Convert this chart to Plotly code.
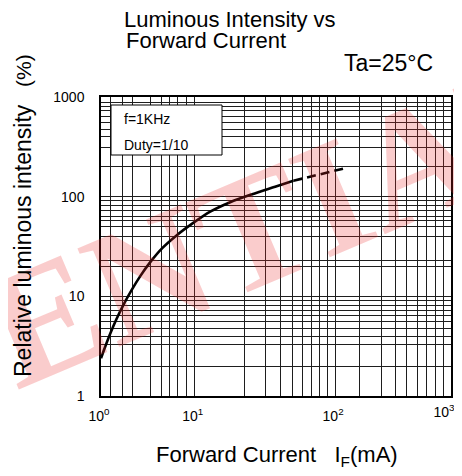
import plotly.graph_objects as go

# ---- data ----
x_label_vals = [1.0, 6.36, 101.5]
x_label_text = ["10<sup>0</sup>", "10<sup>1</sup>", "10<sup>2</sup>"]
x_end_val = [1000.0]
x_end_text = ["10<sup>3</sup>"]
y_label_vals = [1, 10, 100, 1000]
y_label_text = ["1", "10", "100", "1000"]

x_grid = [1.218, 1.522, 1.872, 2.644, 3.284, 3.845, 4.502, 5.43,
          16.87, 25.88, 34.31, 43.47, 53.48, 63.24, 74.47, 87.22,
          164.6, 251.4, 334.6, 411.6, 511.3, 619.3, 729.4, 853.9]
y_grid = [891, 807, 724, 640, 561, 471, 397, 315, 199,
          92.2, 82.1, 72.0, 63.7, 57.1, 50.2, 39.5, 23.1, 19.8,
          9.17, 8.17, 7.28, 6.49, 5.65, 4.77, 3.99, 3.32, 1.97]

curve_x = [1.0, 1.088, 1.201, 1.352, 1.553, 1.818, 2.170, 2.644, 3.349,
           4.415, 6.052, 8.630, 12.81, 19.76, 31.09, 44.61]
curve_y = [2.387, 3.134, 4.231, 5.846, 8.169, 11.41, 15.95, 22.03, 30.45,
           40.62, 53.58, 70.68, 88.0, 105.8, 125.8, 144.5]
ext_x = [44.61, 123.6]
ext_y = [144.5, 192.9]

# ---- layout geometry (page is offset 8px by the body margin) ----
W, H = 446, 460
ML, MR, MT, MB = 93, 3, 89, 72
PL, PR, PT, PB = 101, 451, 97, 396   # plot area in page pixels


def px(x):
    return (x - PL) / (PR - PL)


def py(y):
    return (PB - y) / (PB - PT)


FONT = "Liberation Sans, Arial, sans-serif"

fig = go.Figure()
fig.add_trace(go.Scatter(x=curve_x, y=curve_y, mode="lines",
                         line=dict(color="black", width=2.6, shape="spline", smoothing=0.8),
                         showlegend=False, hoverinfo="skip"))
fig.add_trace(go.Scatter(x=ext_x, y=ext_y, mode="lines", xaxis="x2", yaxis="y2",
                         line=dict(color="black", width=2.6, dash="9px,5px"),
                         showlegend=False, hoverinfo="skip"))

grid_col = "#1e1e1e"
common = dict(type="log", range=[0, 3], tickmode="array", showgrid=True, automargin=False,
              gridcolor=grid_col, gridwidth=1, ticks="", zeroline=False)
tick_font = dict(family=FONT, size=14, color="black")

fig.update_layout(
    xaxis=dict(**common, tickvals=x_label_vals, ticktext=x_label_text,
               showline=True, mirror=True, linecolor="black", linewidth=1.5,
               ticklabelstandoff=6, ticklabelshift=-2, ticklabeloverflow="allow",
               tickfont=tick_font),
    yaxis=dict(**common, tickvals=y_label_vals, ticktext=y_label_text,
               showline=True, mirror=True, linecolor="black", linewidth=1.5,
               ticklabelstandoff=12, tickfont=tick_font),
    xaxis2=dict(**common, tickvals=x_grid + x_end_val,
                ticktext=[""] * len(x_grid) + x_end_text,
                ticklabelstandoff=6, ticklabelshift=-7, ticklabeloverflow="allow",
                tickfont=tick_font,
                overlaying="x", anchor="y2", side="bottom"),
    yaxis2=dict(**common, tickvals=y_grid, showticklabels=False,
                overlaying="y", anchor="x2", side="left"),
)

ann = []
# watermark
ann.append(dict(text="<b>ENTIAL</b>", x=px(282), y=py(218), xref="paper", yref="paper",
                xanchor="center", yanchor="middle", showarrow=False, textangle=-23,
                font=dict(family="Liberation Serif, Times New Roman, serif", size=163,
                          color="rgba(235,40,40,0.24)")))
# titles
ann.append(dict(text="Luminous Intensity vs", x=px(122), y=py(20), xref="paper", yref="paper",
                xanchor="left", yanchor="middle", showarrow=False,
                font=dict(family=FONT, size=22, color="black")))
ann.append(dict(text="Forward Current", x=px(124), y=py(40.5), xref="paper", yref="paper",
                xanchor="left", yanchor="middle", showarrow=False,
                font=dict(family=FONT, size=22, color="black")))
ann.append(dict(text="Ta=25°C", x=px(342), y=py(62.6), xref="paper", yref="paper",
                xanchor="left", yanchor="middle", showarrow=False,
                font=dict(family=FONT, size=23, color="black")))
ann.append(dict(text="Relative luminous intensity", x=px(23), y=py(241), xref="paper", yref="paper",
                xanchor="center", yanchor="middle", showarrow=False, textangle=-90,
                font=dict(family=FONT, size=23, color="black")))
ann.append(dict(text="(%)", x=px(23), y=py(71), xref="paper", yref="paper",
                xanchor="center", yanchor="middle", showarrow=False, textangle=-90,
                font=dict(family=FONT, size=21, color="black")))
ann.append(dict(text="Forward Current   I<sub>F</sub>(mA)", x=px(277), y=py(456), xref="paper", yref="paper",
                xanchor="center", yanchor="middle", showarrow=False,
                font=dict(family=FONT, size=22, color="black")))
# note box text
ann.append(dict(text="f=1KHz", x=px(121.5), y=py(119), xref="paper", yref="paper",
                xanchor="left", yanchor="middle", showarrow=False,
                font=dict(family=FONT, size=14, color="black")))
ann.append(dict(text="Duty=1/10", x=px(121.5), y=py(145), xref="paper", yref="paper",
                xanchor="left", yanchor="middle", showarrow=False,
                font=dict(family=FONT, size=14, color="black")))

shapes = [dict(type="rect", xref="paper", yref="paper",
               x0=px(111), x1=px(222), y0=py(155), y1=py(105),
               fillcolor="white", line=dict(color="black", width=1), layer="above")]

fig.update_layout(width=W, height=H,
                  margin=dict(l=ML, r=MR, t=MT, b=MB, autoexpand=False),
                  plot_bgcolor="white", paper_bgcolor="white",
                  annotations=ann, shapes=shapes, showlegend=False)

fig.write_html("out.html")
